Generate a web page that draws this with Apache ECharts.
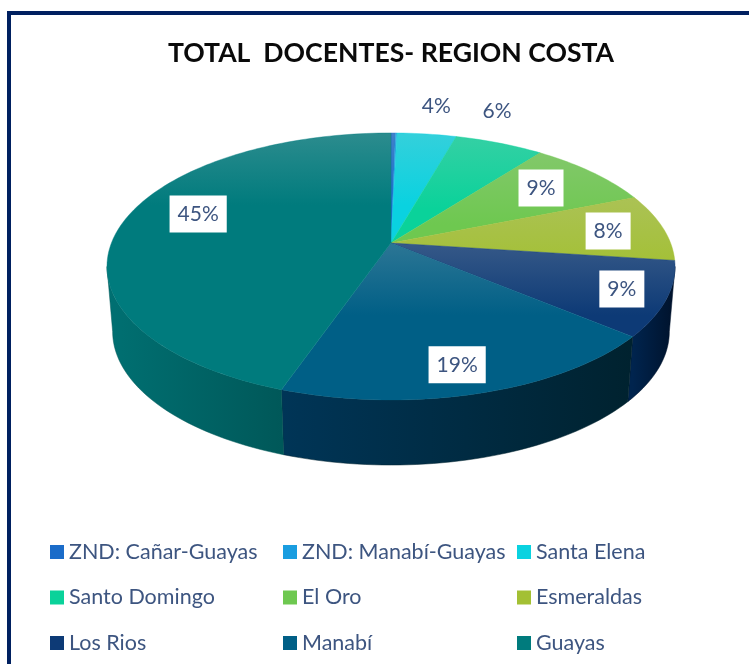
<!DOCTYPE html>
<html>
<head>
<meta charset="utf-8">
<style>html,body{margin:0;padding:0;background:#fff}#c{width:749px;height:664px;filter:blur(0.4px)}</style>
<script src="https://cdn.jsdelivr.net/npm/echarts@6/dist/echarts.min.js"></script>
</head>
<body>
<div id="c"></div>
<script>
const categories = ['ZND: Cañar-Guayas','ZND: Manabí-Guayas','Santa Elena','Santo Domingo','El Oro','Esmeraldas','Los Rios','Manabí','Guayas'];
const values = [0.3,0.1,4.0,6.0,8.5,8.2,9.0,19.2,44.7];
const colors = ['#1b6cc9','#1a9de0','#0ad2e0','#0ad29a','#6ec850','#a3c034','#0d3a76','#005f86','#007b7d'];
const wallLeft = ['#0a3a80','#0a5a90','#067f88','#068060','#3f7a30','#607020','#00244e','#003557','#007072'];
const wallRight = ['#0a3a80','#0a5a90','#067f88','#068060','#3f7a30','#607020','#00122b','#00222f','#005859'];
// label placement on the pie: radius (1 = rim) and clock angle in degrees
const labelRadius = [0,0,1.316,1.326,0.74,0.795,0.846,0.833,0.755];
const labelAngle = [0,0,8.7,20.4,51.6,83.2,113.3,165.9,288];

const total = values.reduce((a,b)=>a+b,0);
const starts = []; { let c = 0; values.forEach(v => { starts.push(c); c += v; }); }

const apexX = 391, apexY = 243, A = 129.4, B = 279.6, K = 0.176, DEPTH = 65, BASE_SCALE = 0.98;
function project(deg, r) {
  const t = deg * Math.PI / 180, u = Math.sin(t) * r, v = -Math.cos(t) * r, d = 1 - K * v;
  return [apexX + B * u / d, apexY + A * v / d];
}
function arc(a0, a1, r) {
  const n = Math.max(2, Math.ceil(Math.abs(a1 - a0) / 1.5)), pts = [];
  for (let i = 0; i <= n; i++) pts.push(project(a0 + (a1 - a0) * i / n, r));
  return pts;
}
function mix(hex, t) {
  const n = parseInt(hex.slice(1), 16);
  const c = [n >> 16, (n >> 8) & 255, n & 255].map(x => Math.round(x + (200 - x) * t));
  return 'rgb(' + c.join(',') + ')';
}
const VIS0 = 180 - Math.acos(K) * 180 / Math.PI, VIS1 = 360 - VIS0;

function renderSlice(i) {
  return function () {
    const a0 = starts[i] / total * 360, a1 = (starts[i] + values[i]) / total * 360;
    const children = [];
    const w0 = Math.max(a0, VIS0), w1 = Math.min(a1, VIS1);
    if (w1 > w0) {
      const top = arc(w0, w1, 1);
      const bottom = top.map(p => [apexX + (p[0] - apexX) * BASE_SCALE, p[1] + DEPTH]).reverse();
      const xs = top.map(p => p[0]);
      const lo = Math.min.apply(null, xs), hi = Math.max.apply(null, xs);
      children.push({
        type: 'polygon', z2: 1,
        shape: { points: top.concat(bottom) },
        style: { fill: { type: 'linear', global: true, x: lo, y: 0, x2: hi, y2: 0,
          colorStops: [{ offset: 0, color: wallLeft[i] }, { offset: 1, color: wallRight[i] }] },
          stroke: wallRight[i], lineWidth: 0.5 }
      });
    }
    const rim = arc(a0, a1, 1);
    const pts = [[apexX, apexY]].concat(rim);
    const yTop = Math.min.apply(null, pts.map(p => p[1]));
    children.push({
      type: 'polygon', z2: 2,
      shape: { points: pts },
      style: { fill: { type: 'linear', global: true, x: 0, y: yTop, x2: 0, y2: yTop + 72,
        colorStops: [{ offset: 0, color: mix(colors[i], 0.22) }, { offset: 1, color: colors[i] }] },
        stroke: colors[i], lineWidth: 0.4 }
    });
    if (values[i] / total >= 0.01) {
      const p = project(labelAngle[i], labelRadius[i]);
      const inside = labelRadius[i] <= 1;
      children.push({
        type: 'text', z2: 10,
        x: p[0], y: p[1],
        style: {
          text: Math.round(values[i] / total * 100) + '%',
          fill: '#3d5580',
          font: '21px Lato',
          align: 'center', verticalAlign: 'middle',
          backgroundColor: inside ? '#ffffff' : 'transparent',
          padding: [8, 8, 8, 8]
        }
      });
    }
    return { type: 'group', children };
  };
}

const chart = echarts.init(document.getElementById('c'), null, { renderer: 'canvas' });
const legendCol = (names, left) => ({
  orient: 'vertical', left, top: 536, itemWidth: 14, itemHeight: 14, itemGap: 23.5,
  selectedMode: false, icon: 'rect', data: names.map(n => ({ name: n, icon: 'rect' })),
  textStyle: { fontFamily: 'Lato', fontSize: 21.5, color: '#3d5580', padding: [0,0,0,0] },
  itemStyle: { borderWidth: 0 }
});
chart.setOption({
  animation: false,
  backgroundColor: '#ffffff',
  title: { text: 'TOTAL  DOCENTES- REGION COSTA', left: 386, top: 35, textAlign: 'center',
    textStyle: { fontFamily: 'Lato', fontWeight: 'bold', fontSize: 26.6, color: '#0a0a0a' } },
  legend: [
    legendCol([categories[0],categories[3],categories[6]], 45),
    legendCol([categories[1],categories[4],categories[7]], 278),
    legendCol([categories[2],categories[5],categories[8]], 512)
  ],
  graphic: [
    { type: 'rect', silent: true, shape: { x: 7, y: 11, width: 742, height: 4 }, style: { fill: '#002060' } },
    { type: 'rect', silent: true, shape: { x: 7, y: 11, width: 4, height: 653 }, style: { fill: '#002060' } }
  ],
  series: categories.map((name, i) => ({
    type: 'custom', name, coordinateSystem: 'none', silent: true,
    color: colors[i],
    itemStyle: { color: colors[i] },
    data: [values[i]],
    renderItem: renderSlice(i)
  }))
});
</script>
</body>
</html>
